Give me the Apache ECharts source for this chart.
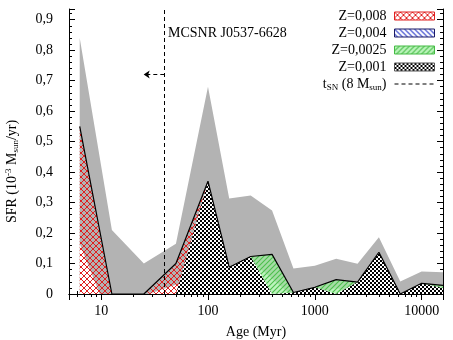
<!DOCTYPE html>
<html>
<head>
<meta charset="utf-8">
<title>SFH MCSNR J0537-6628</title>
<script src="https://cdn.jsdelivr.net/npm/echarts@6/dist/echarts.min.js"></script>
<style>body{margin:0;background:#fff}</style>
</head>
<body>
<div id="main" style="width:453px;height:340px;"></div>
<script type="text/javascript">
// age bins (Myr) and SFR values
var ages     = [6.3, 12.6, 25.1, 50.1, 100, 158, 251, 398, 631, 1000, 1585, 2512, 3981, 6310, 10000, 15849];
var sfrUpper = [0.84, 0.21, 0.10, 0.165, 0.68, 0.313, 0.323, 0.274, 0.084, 0.093, 0.116, 0.099, 0.186, 0.041, 0.074, 0.071];
var sfrLower = [0.165, -0.10, -0.005, 0.03, 0, 0, 0.11, 0.05, -0.01, 0, 0.02, 0, 0, 0, 0, 0];
var z0001    = [0, 0, 0, 0, 0.37, 0.088, 0.123, 0, 0.005, 0.022, 0, 0.039, 0.137, 0, 0.035, 0.02];
var z00025   = [0, 0, 0, 0, 0, 0, 0, 0.13, 0, 0, 0.047, 0, 0, 0, 0, 0.008];
var z0004    = [0, 0, 0, 0, 0, 0, 0, 0, 0, 0, 0, 0, 0, 0, 0, 0];
var z0008    = [0.55, 0, 0, 0.10, 0, 0, 0, 0, 0, 0, 0, 0, 0, 0, 0, 0];
var tSN = 39;          // Myr, lifetime of an 8 Msun star
var arrowEnd = 25;     // Myr
var arrowY = 0.72;

var font = 'Liberation Serif';

// value first, age second (so that stacking happens on the SFR dimension)
function pts(v) {
    return ages.map(function (a, i) { return [v[i], a]; });
}

// little canvas patterns for the hatched fills
function pattern(w, h, draw) {
    var c = document.createElement('canvas');
    c.width = w; c.height = h;
    draw(c.getContext('2d'));
    return { image: c, repeat: 'repeat' };
}
var redX = pattern(6, 6, function (g) {
    g.strokeStyle = '#e02020'; g.lineWidth = 1;
    g.beginPath();
    g.moveTo(0, 0); g.lineTo(6, 6);
    g.moveTo(6, 0); g.lineTo(0, 6);
    g.stroke();
});
var checker = pattern(4, 4, function (g) {
    g.fillStyle = '#fff'; g.fillRect(0, 0, 4, 4);
    g.fillStyle = '#000'; g.fillRect(0, 0, 2, 2); g.fillRect(2, 2, 2, 2);
});
var green = pattern(5, 5, function (g) {
    g.fillStyle = 'rgba(160,240,160,0.7)'; g.fillRect(0, 0, 5, 5);
    g.strokeStyle = '#4cbf4c'; g.lineWidth = 1.1;
    g.beginPath();
    g.moveTo(0, 5); g.lineTo(5, 0);
    g.moveTo(-1, 1); g.lineTo(1, -1);
    g.moveTo(4, 6); g.lineTo(6, 4);
    g.stroke();
});
var blue = pattern(5, 5, function (g) {
    g.fillStyle = '#fff'; g.fillRect(0, 0, 5, 5);
    g.strokeStyle = '#3344cc'; g.lineWidth = 1.2;
    g.beginPath();
    g.moveTo(0, 0); g.lineTo(5, 5);
    g.moveTo(4, -1); g.lineTo(6, 1);
    g.moveTo(-1, 4); g.lineTo(1, 6);
    g.stroke();
});

function yFmt(v) {
    if (v === 0) return '0';
    var r = Math.round(v * 10);
    if (Math.abs(v * 10 - r) > 1e-6) return '';
    return (r / 10).toFixed(1).replace('.', ',');
}
function xFmt(v) {
    var l = Math.log10(v);
    return Math.abs(l - Math.round(l)) < 1e-6 ? String(Math.round(v)) : '';
}

var myChart = echarts.init(document.getElementById('main'));

var xCommon = {
    type: 'log', logBase: 10, min: 5, max: 15849,
    axisLine: { lineStyle: { color: '#000', width: 1 } },
    axisTick: { inside: true, length: 6, lineStyle: { color: '#000' } },
    minorTick: { show: true, splitNumber: 9, length: 3, lineStyle: { color: '#000' } },
    splitLine: { show: false },
    minorSplitLine: { show: false }
};
var yCommon = {
    type: 'value', min: 0, max: 0.935, interval: 0.1,
    axisLine: { show: true, lineStyle: { color: '#000', width: 1 } },
    axisTick: { inside: true, length: 6, lineStyle: { color: '#000' } },
    minorTick: { show: true, splitNumber: 5, length: 3, lineStyle: { color: '#000' } },
    splitLine: { show: false }
};

function area(name, values, fill, extra) {
    return echarts.util.merge({
        name: name, type: 'line', data: pts(values), encode: { x: 1, y: 0 },
        symbol: 'none', silent: true,
        lineStyle: { width: 0 }, areaStyle: { color: fill, opacity: 1 }
    }, extra || {}, true);
}

var option = {
    animation: false,
    textStyle: { fontFamily: font, color: '#000' },
    grid: { left: 69, right: 10, top: 9, bottom: 46, containLabel: false, outerBoundsMode: 'none' },
    xAxis: [
        echarts.util.merge({
            position: 'bottom',
            name: 'Age (Myr)', nameLocation: 'middle', nameGap: 31,
            nameTextStyle: { fontFamily: font, fontSize: 14, color: '#000' },
            axisLabel: { formatter: xFmt, fontFamily: font, fontSize: 14, color: '#000', margin: 10 }
        }, xCommon, true),
        echarts.util.merge({ position: 'top', axisLabel: { show: false } }, xCommon, true)
    ],
    yAxis: [
        echarts.util.merge({
            position: 'left',
            name: 'SFR (10{sup|-3} M{sub|sun}/yr)', nameLocation: 'middle', nameGap: 48, nameRotate: 90,
            nameTextStyle: {
                fontFamily: font, fontSize: 14, color: '#000', padding: [0, 40, 0, 0],
                rich: {
                    sup: { fontFamily: font, fontSize: 9, color: '#000', padding: [0, 0, 8, 0] },
                    sub: { fontFamily: font, fontSize: 9, color: '#000', padding: [7, 0, 0, 0] }
                }
            },
            axisLabel: { formatter: yFmt, fontFamily: font, fontSize: 14, color: '#000', margin: 16, showMaxLabel: false }
        }, yCommon, true),
        echarts.util.merge({ position: 'right', axisLabel: { show: false } }, yCommon, true)
    ],
    legend: {
        orient: 'vertical', right: 13, top: 4, align: 'right',
        itemWidth: 40, itemHeight: 8, itemGap: 3,
        selectedMode: false,
        textStyle: {
            fontFamily: font, fontSize: 14, color: '#000', lineHeight: 14, padding: [0, 3, 0, 0],
            rich: {
                sub: { fontFamily: font, fontSize: 9, color: '#000', padding: [7, 0, 0, 0] }
            }
        },
        formatter: function (name) {
            if (name === 'tSN') return 't{sub|SN} (8 M{sub|sun})';
            return name;
        },
        data: [
            { name: 'Z=0,008', icon: 'rect', itemStyle: { color: redX, borderColor: '#e02020', borderWidth: 1 } },
            { name: 'Z=0,004', icon: 'rect', itemStyle: { color: blue, borderColor: '#1a1a66', borderWidth: 1 } },
            { name: 'Z=0,0025', icon: 'rect', itemStyle: { color: green, borderColor: '#44bb44', borderWidth: 1 } },
            { name: 'Z=0,001', icon: 'rect', itemStyle: { color: checker, borderColor: '#555', borderWidth: 1 } },
            { name: 'tSN', itemStyle: { color: 'rgba(0,0,0,0)', borderWidth: 0 },
              lineStyle: { color: '#000', width: 1, type: [4, 3] } }
        ]
    },
    graphic: [{
        type: 'text', left: 168, top: 26, z: 100,
        style: { text: 'MCSNR J0537-6628', font: '14px "Liberation Serif"', fill: '#000' }
    }],
    series: [
        area('upper', sfrUpper, '#b3b3b3'),
        area('lower', sfrLower, '#fff'),
        area('Z=0,001', z0001, checker, { stack: 'z' }),
        area('Z=0,0025', z00025, green, { stack: 'z' }),
        area('Z=0,004', z0004, blue, { stack: 'z' }),
        area('Z=0,008', z0008, redX, {
            stack: 'z', lineStyle: { width: 1.2, color: '#000' }, itemStyle: { color: '#e02020' }
        }),
        {
            name: 'tSN', type: 'line', data: [], symbol: 'none',
            lineStyle: { color: '#000', width: 1, type: [4, 3] },
            markLine: {
                silent: true, symbol: ['none', 'none'], label: { show: false },
                lineStyle: { color: '#000', width: 1, type: [4, 3] },
                data: [
                    { xAxis: tSN },
                    [{ coord: [tSN, arrowY], symbol: 'none' },
                     { coord: [arrowEnd, arrowY], symbol: 'arrow', symbolSize: 6 }]
                ]
            }
        }
    ]
};

myChart.setOption(option);
</script>
</body>
</html>
